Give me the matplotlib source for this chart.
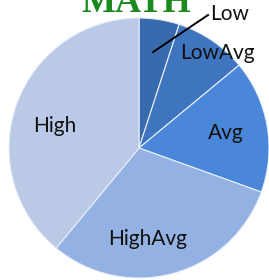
import matplotlib
matplotlib.use("Agg")
import matplotlib.pyplot as plt

# share of students per level (percent)
levels = ["Low", "LowAvg", "Avg", "HighAvg", "High"]
shares = [5, 9, 16.5, 30.5, 39]
colors = ["#386aae", "#3f74bf", "#4a87d8", "#93b1e2", "#b9c9e6"]

W, H = 269, 280
fig = plt.figure(figsize=(W / 100, H / 100), dpi=100)

# pie: centre (139, 148) px, radius 130 px
cx, cy, r = 139, 148, 130
ax = fig.add_axes([(cx - r) / W, (H - cy - r) / H, 2 * r / W, 2 * r / H])
ax.pie(shares, colors=colors, startangle=90, counterclock=False,
       radius=1, wedgeprops=dict(edgecolor="#e8eef8", linewidth=0.8))
ax.set_xlim(-1, 1)
ax.set_ylim(-1, 1)
ax.axis("off")

# labels
font = dict(family="Lato", fontsize=15, color="#111111", ha="center", va="center")
ax.text(0.70, 1.03, "Low", clip_on=False, **font)
ax.plot([0.108, 0.531], [0.738, 1.023], color="black", lw=1.4, clip_on=False)
ax.text(0.60, 0.73, "LowAvg", **font)
ax.text(0.67, 0.115, "Avg", **font)
ax.text(-0.646, 0.17, "High", **font)
ax.text(0.07, -0.70, "HighAvg", **font)

# title, cut off at the top as in the original
fig.text(136.5 / W, 1 - 12 / H, "MATH", family="Liberation Serif",
         fontweight="bold", fontsize=26, color="#1a8a1f",
         ha="center", va="baseline")

fig.savefig("out.png", dpi=100)
